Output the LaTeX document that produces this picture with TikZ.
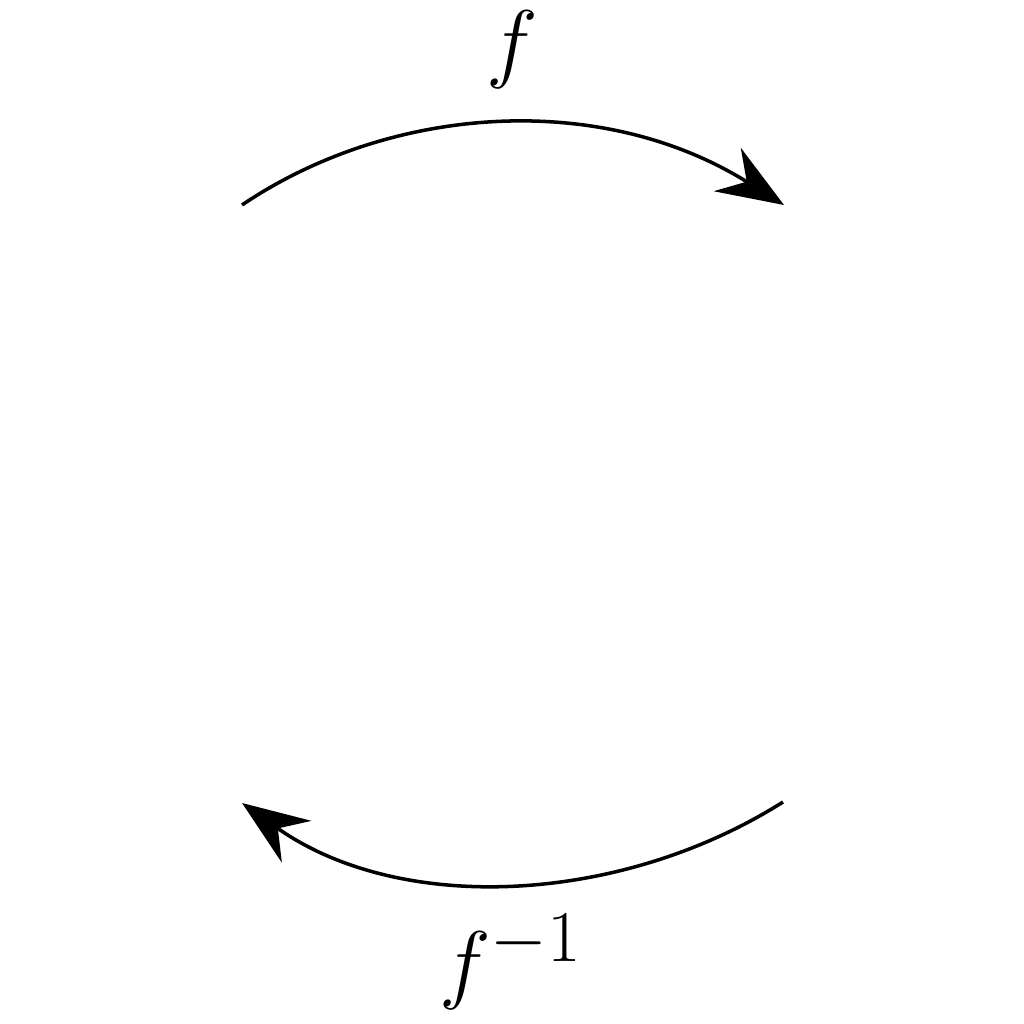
\documentclass[tikz,border=0pt]{standalone}
\usetikzlibrary{arrows.meta}
\begin{document}
\begin{tikzpicture}[x=0.01cm,y=-0.01cm,
  arc/.style={line width=1pt,-{Stealth[length=19pt,width=14.5pt,inset=6.5pt]}},
  lbl/.style={inner sep=0pt,font=\fontsize{28.5}{34}\selectfont}]
\useasboundingbox (0,0) rectangle (1024,1024);
\coordinate (a1) at (242,205);
\coordinate (b1) at (784,205);
\coordinate (b2) at (783,802);
\coordinate (a2) at (242,803);
\draw[arc] (a1) .. controls (390,105) and (600,90) .. (b1);
\draw[arc] (b2) .. controls (620,905) and (400,915) .. (a2);
\node[lbl] (f) at (512,50) {$f$};
\node[lbl] (finv) at (511,962) {$f^{-1}$};
\end{tikzpicture}
\end{document}
